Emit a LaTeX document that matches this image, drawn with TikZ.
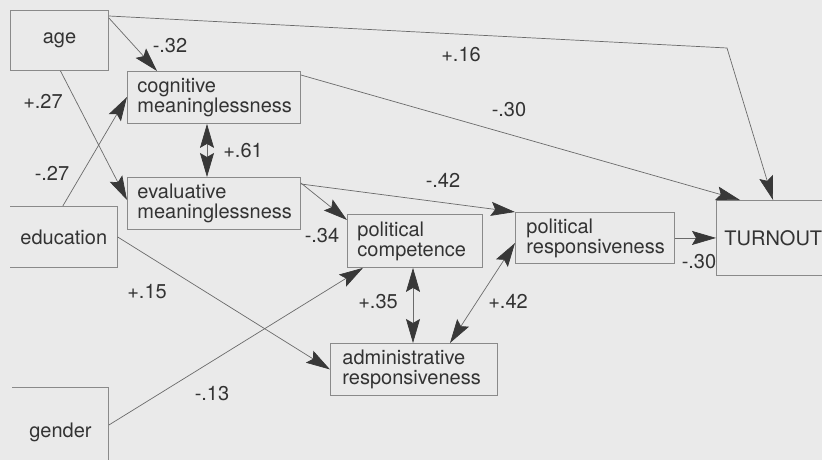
\documentclass[tikz,border=0pt]{standalone}
\usepackage{fontspec}
\setmainfont{TeX Gyre Heros}
\usetikzlibrary{arrows.meta,calc}
\definecolor{bg}{HTML}{EAEAEA}
\definecolor{txt}{HTML}{333333}
\definecolor{boxline}{HTML}{8A8A8A}
\definecolor{connc}{HTML}{6A6A6A}
\definecolor{tipc}{HTML}{383838}
\newcommand\dfont{\fontsize{20}{20}\selectfont}
\begin{document}
\begin{tikzpicture}[x=1pt,y=-1pt,
 box/.style={draw=boxline, line width=0.9pt, anchor=north west, inner xsep=10pt, inner ysep=0pt, font=\dfont, text=txt, align=left},
 openbox/.style={box, draw=none},
 boxedge/.style={draw=boxline, line width=0.9pt},
 connline/.style={draw=connc, line width=0.7pt},
 tipa/.tip={Stealth[length=24pt,width=14pt,inset=4pt,color=tipc]},
 arr/.style={connline, -tipa},
 darr/.style={connline, tipa-tipa},
 lab/.style={font=\dfont, text=txt, anchor=base, inner sep=0pt}]
\useasboundingbox (0,0) rectangle (822,460);
\clip (0,0) rectangle (822,460);
\fill[bg] (0,0) rectangle (822,460);

% boxes
\node[box, minimum width=98pt, minimum height=60pt, align=center] (age) at (10,10) {age};
\node[box, text width=153pt, minimum height=52pt] (cog) at (127,71) {cognitive\\meaninglessness};
\node[box, text width=153pt, minimum height=52pt] (eval) at (127,177) {evaluative\\meaninglessness};
\node[openbox, minimum width=98pt, minimum height=61pt, align=center] (edu) at (10,206) {education};
\draw[boxedge] (edu.north west) -- (edu.north east) -- (edu.south east) -- (edu.south west);
\node[box, text width=115pt, minimum height=53pt] (pc) at (347,214) {political\\competence};
\node[box, inner xsep=11pt, text width=137pt, minimum height=51pt] (pr) at (515,212) {political\\responsiveness};
\node[box, inner xsep=8pt, text width=130pt, minimum height=75pt] (turn) at (716,200) {TURNOUT};
\node[box, inner xsep=12pt, text width=143pt, minimum height=52pt] (admin) at (330,343) {administrative\\responsiveness};
\node[openbox, minimum width=96pt, minimum height=90pt, align=center] (gender) at (12,387) {gender};
\draw[boxedge] (gender.north west) -- (gender.north east) -- (gender.south east);

% connectors
\coordinate (bend) at (727,48);
\draw[arr] ($(age.north east)+(0,8)$) -- ($(cog.north west)+(30,0)$);
\draw[arr] ($(age.north east)+(0,6)$) -- (bend) -- ($(turn.north west)+(57,0)$);
\draw[arr] ($(cog.north east)+(0,4)$) -- ($(turn.north west)+(24,0)$);
\draw[arr] ($(age.south)+(1,0)$) -- ($(eval.north west)+(0,23)$);
\draw[arr] ($(edu.north)+(-1,0)$) -- ($(cog.north west)+(0,26)$);
\draw[darr] ($(cog.south west)+(80,0)$) -- ($(eval.north west)+(80,0)$);
\draw[arr] ($(eval.north east)+(0,6)$) -- ($(pc.north west)+(0,6)$);
\draw[arr] ($(eval.north east)+(0,7)$) -- (pr.north west);
\draw[arr] (edu.east) -- (admin.west);
\draw[arr] ($(gender.north east)+(0,38)$) -- ($(pc.south west)+(16,0)$);
\draw[darr] ($(pc.south west)+(66,0)$) -- ($(admin.north west)+(83,0)$);
\draw[darr] ($(admin.north west)+(120,0)$) -- ($(pr.north west)+(0,31)$);
\draw[arr] (pr.east) -- (turn.west);

% labels
\node[lab] (l1) at (170,53) {-.32};
\node[lab] (l2) at (43,108) {+.27};
\node[lab] (l3) at (52,180) {-.27};
\node[lab] (l4) at (243,157) {+.61};
\node[lab] (l5) at (322,242) {-.34};
\node[lab] (l6) at (443,187) {-.42};
\node[lab] (l7) at (461,62) {+.16};
\node[lab] (l8) at (509,117) {-.30};
\node[lab] (l9) at (147,298) {+.15};
\node[lab] (l10) at (378,308) {+.35};
\node[lab] (l11) at (508,308) {+.42};
\node[lab] (l12) at (212,400) {-.13};
\node[lab] (l13) at (699,268) {-.30};
\end{tikzpicture}
\end{document}
